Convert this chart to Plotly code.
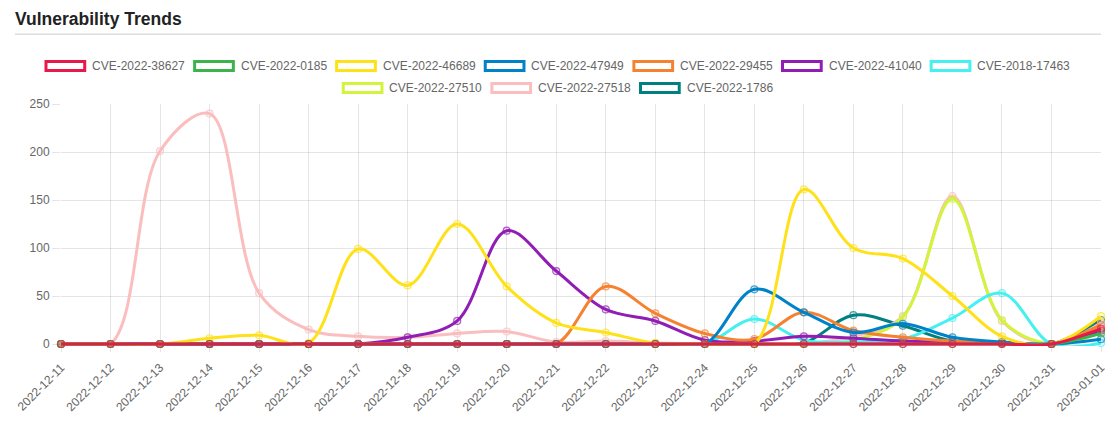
import plotly.graph_objects as go

dates = ["2022-12-11", "2022-12-12", "2022-12-13", "2022-12-14", "2022-12-15", "2022-12-16",
         "2022-12-17", "2022-12-18", "2022-12-19", "2022-12-20", "2022-12-21", "2022-12-22",
         "2022-12-23", "2022-12-24", "2022-12-25", "2022-12-26", "2022-12-27", "2022-12-28",
         "2022-12-29", "2022-12-30", "2022-12-31", "2023-01-01"]

names = ["CVE-2022-38627", "CVE-2022-0185", "CVE-2022-46689", "CVE-2022-47949", "CVE-2022-29455",
         "CVE-2022-41040", "CVE-2018-17463", "CVE-2022-27510", "CVE-2022-27518", "CVE-2022-1786"]

colors = ["#e6194b", "#3cb44b", "#ffe119", "#0082c8", "#f58231",
          "#911eb4", "#46f0f0", "#d2f53c", "#fabebe", "#008080"]

v_38627 = [0, 0, 0, 0, 0, 0, 0, 0, 0, 0, 0, 0, 0, 0, 0, 0, 0, 0, 0, 0, 0, 16]
v_0185 = [0, 0, 0, 0, 0, 0, 0, 0, 0, 0, 0, 0, 0, 0, 0, 0, 0, 0, 0, 0, 0, 11]
v_46689 = [0, 0, 0, 6, 9, 1, 99, 61, 125, 60, 22, 12, 1, 0, 0, 161, 100, 89, 50, 8, 0, 29]
v_47949 = [0, 0, 0, 0, 0, 0, 0, 0, 0, 0, 0, 0, 0, 0, 57, 33, 12, 21, 7, 2, 0, 5]
v_29455 = [0, 0, 0, 0, 0, 0, 0, 0, 0, 0, 0, 60, 32, 11, 5, 33, 14, 7, 3, 1, 0, 20]
v_41040 = [0, 0, 0, 0, 0, 0, 0, 7, 24, 118, 76, 36, 24, 4, 3, 8, 6, 3, 2, 1, 0, 14]
v_17463 = [0, 0, 0, 0, 0, 0, 0, 0, 0, 0, 0, 0, 0, 0, 26, 4, 2, 5, 27, 53, 0, 1]
v_27510 = [0, 0, 0, 0, 0, 0, 0, 0, 0, 0, 0, 0, 0, 0, 0, 0, 4, 28, 151, 25, 0, 12]
v_27518 = [0, 0, 201, 240, 53, 15, 8, 7, 11, 13, 2, 3, 1, 0, 0, 0, 8, 29, 154, 24, 0, 22]
v_1786 = [0, 0, 0, 0, 0, 0, 0, 0, 0, 0, 0, 0, 0, 0, 0, 1, 30, 19, 3, 1, 0, 25]

series = [v_38627, v_0185, v_46689, v_47949, v_29455, v_41040, v_17463, v_27510, v_27518, v_1786]

y_ticks = [0, 50, 100, 150, 200, 250]
y_max = 250

legend_rows = [[0, 1, 2, 3, 4, 5, 6], [7, 8, 9]]

# figure geometry (pixels, relative to the figure div, which the page offsets by 8px)
W, H = 1102, 412
ML = 52.5
PLOT_RIGHT = 1100
MR = W - PLOT_RIGHT
MT = 96
Y0PX = 336.5            # pixel row of value 0
EXT = 2                 # extra pixels below zero so the zero lines are not clipped
MB = H - (Y0PX + EXT)
PW, PH = W - ML - MR, H - MT - MB
y_min = -EXT * y_max / (Y0PX - MT)


def px_x(px):
    return (px - ML) / PW


def px_y(py):
    return 1 - (py - MT) / PH


def rgba(hexc, a):
    h = hexc.lstrip("#")
    r, g, b = int(h[0:2], 16), int(h[2:4], 16), int(h[4:6], 16)
    return f"rgba({r},{g},{b},{a})"


fig = go.Figure()

# draw in reverse so the first dataset sits on top (as in the original)
for i in reversed(range(len(names))):
    c = colors[i]
    fig.add_trace(go.Scatter(
        x=list(range(len(dates))), y=series[i], name=names[i], mode="lines+markers",
        line=dict(color=c, width=3, shape="spline", smoothing=1.0),
        marker=dict(symbol="circle", size=7, color=rgba(c, 0.15),
                    line=dict(color=rgba(c, 0.7), width=1.2)),
        cliponaxis=False, showlegend=False,
    ))

shapes = []
annotations = []

# title and rule
annotations.append(dict(
    text="<b>Vulnerability Trends</b>", xref="paper", yref="paper",
    x=px_x(4.5), y=px_y(11), xanchor="left", yanchor="middle", showarrow=False,
    font=dict(family="Liberation Sans, Arial, sans-serif", size=17.5, color="#222222"),
))
shapes.append(dict(type="line", xref="paper", yref="paper",
                   x0=px_x(6), x1=px_x(1100), y0=px_y(26), y1=px_y(26),
                   line=dict(color="#dddddd", width=1.5)))

# custom legend (box outlines like the original)
CW = {"C": 8.67, "V": 8.0, "E": 8.0, "-": 4.0}
def text_w(s):
    return sum(CW.get(ch, 6.67) for ch in s)

center = 552
row_y = [58, 80]
for r, row in enumerate(legend_rows):
    widths = [48 + text_w(names[i]) for i in row]
    total = sum(widths) + 9 * (len(row) - 1)
    x = center - total / 2
    for k, i in enumerate(row):
        cy = row_y[r]
        shapes.append(dict(type="rect", xref="paper", yref="paper",
                           x0=px_x(x + 1.5), x1=px_x(x + 40.5),
                           y0=px_y(cy - 4.5), y1=px_y(cy + 4.5),
                           line=dict(color=colors[i], width=3), fillcolor="white"))
        annotations.append(dict(
            text=names[i], xref="paper", yref="paper", x=px_x(x + 46), y=px_y(cy),
            xanchor="left", yanchor="middle", showarrow=False,
            font=dict(family="Liberation Sans, Arial, sans-serif", size=12, color="#666666"),
        ))
        x += widths[k] + 9

grid = "rgba(0,0,0,0.1)"
fig.update_layout(
    width=W, height=H,
    margin=dict(l=ML, r=MR, t=MT, b=MB),
    paper_bgcolor="white", plot_bgcolor="white",
    shapes=shapes, annotations=annotations,
    font=dict(family="Liberation Sans, Arial, sans-serif", size=12, color="#666666"),
    xaxis=dict(
        range=[0, len(dates) - 1], tickmode="array",
        tickvals=list(range(len(dates))), ticktext=dates, tickangle=-45,
        showgrid=True, gridcolor=grid, gridwidth=1, zeroline=False,
        ticks="outside", ticklen=5, tickcolor=grid, showline=False,
        ticklabelstandoff=4, ticklabeloverflow="allow",
        tickfont=dict(size=12, color="#666666"),
    ),
    yaxis=dict(
        range=[y_min, y_max], tickmode="array", tickvals=y_ticks,
        showgrid=True, gridcolor=grid, gridwidth=1, zeroline=False,
        ticks="outside", ticklen=8, tickcolor=grid, showline=False,
        tickfont=dict(size=12, color="#666666"),
    ),
)

fig.write_html("out.html")
